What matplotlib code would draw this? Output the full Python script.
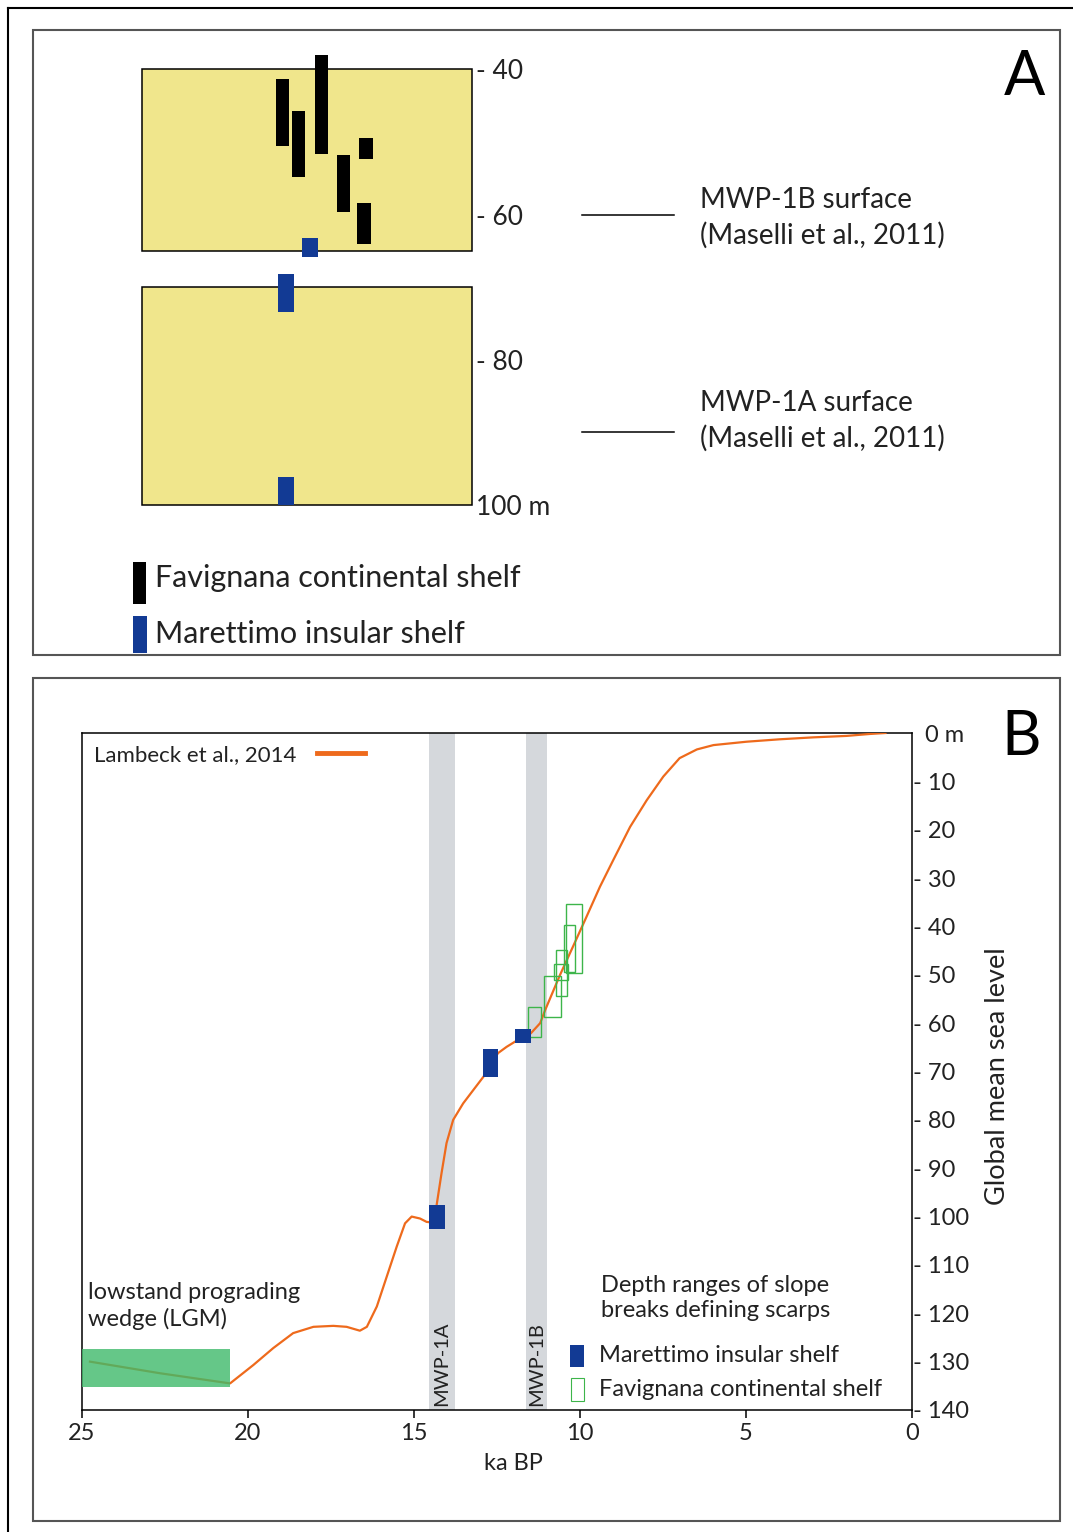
import matplotlib
matplotlib.use('Agg')
import matplotlib.pyplot as plt
from matplotlib.patches import Rectangle
from matplotlib.lines import Line2D
from matplotlib.transforms import blended_transform_factory

plt.rcParams['font.family'] = ['Lato', 'DejaVu Sans']

# ---------------- data: panel A ----------------
fav_x_A = [42.5, 47.5, 54.3, 61.0, 67.9, 67.3]
fav_top_A = [41.3, 45.7, 38.0, 51.8, 49.5, 58.4]
fav_bot_A = [50.6, 54.9, 51.7, 59.6, 52.3, 64.0]
mar_x_A = [50.9, 43.6, 43.6]
mar_top_A = [63.3, 68.2, 96.2]
mar_bot_A = [65.8, 73.4, 100.0]
shelf_top_A = [40, 70]
shelf_bot_A = [65, 100]
depth_ticks_A = [40, 60, 80, 100]
depth_labels_A = ['- 40', '- 60', '- 80', '100 m']
mwp_surface_depths = [60, 90]
mwp_surface_labels = ['MWP-1B surface\n(Maselli et al., 2011)',
                      'MWP-1A surface\n(Maselli et al., 2011)']

# ---------------- data: panel B ----------------
lambeck_age = [24.76, 22.65, 20.54, 19.84, 19.24, 18.64, 18.03, 17.43, 17.03,
               16.63, 16.42, 16.12, 15.82, 15.52, 15.27, 15.07, 14.82, 14.62,
               14.47, 14.32, 14.17, 14.02, 13.82, 13.52, 13.21, 12.91, 12.47,
               12.21, 11.95, 11.48, 11.20, 11.05, 10.60, 10.20, 9.85, 9.40,
               9.00, 8.49, 7.99, 7.49, 7.00, 6.48, 5.98, 4.98, 3.98, 2.97,
               1.97, 1.27, 0.80]
lambeck_depth = [130.0, 132.4, 134.5, 130.7, 127.2, 124.1, 122.8, 122.6, 122.8,
                 123.6, 122.8, 118.6, 112.4, 106.2, 101.4, 100.0, 100.4, 101.1,
                 101.2, 97.7, 91.0, 84.8, 80.0, 76.6, 73.8, 71.1, 66.2,
                 64.9, 63.8, 62.1, 60.0, 57.3, 50.0, 44.0, 38.7, 31.8,
                 26.3, 19.4, 13.9, 9.0, 5.2, 3.4, 2.5, 1.8, 1.3, 0.9,
                 0.6, 0.2, 0.0]

mar_age_old_B = [11.95, 12.93, 14.54]
mar_age_young_B = [11.48, 12.47, 14.07]
mar_top_B = [61.3, 65.3, 97.7]
mar_bot_B = [64.2, 71.1, 102.5]

fav_age_old_B = [10.43, 10.47, 10.73, 10.77, 11.08, 11.56]
fav_age_young_B = [9.95, 10.15, 10.39, 10.37, 10.58, 11.18]
fav_top_B = [35.3, 39.7, 44.9, 47.8, 50.2, 56.7]
fav_bot_B = [49.7, 49.4, 54.4, 51.1, 58.7, 62.8]

mwp_names = ['MWP-1A', 'MWP-1B']
mwp_age_old = [14.54, 11.63]
mwp_age_young = [13.77, 10.98]

lgm_age = [25.0, 20.54]
lgm_depth = [127.4, 135.2]

x_ticks_B = [25, 20, 15, 10, 5, 0]
y_ticks_B = list(range(0, 141, 10))
y_labels_B = ['  0 m'] + ['- %d' % v for v in y_ticks_B[1:]]

# ---------------- styling ----------------
YELLOW = '#f0e68c'
BLUE = '#123a94'
ORANGE = '#ee6a1c'
GREEN_EDGE = '#3db54a'
GREY_BAND = '#d5d8dc'
TXT = '#222222'

W, H = 1073, 1532
fig = plt.figure(figsize=(W / 100, H / 100), dpi=100)


def fx(px):
    return px / W


def fy(py):
    return 1 - py / H


# outer frame lines
fig.add_artist(Line2D([fx(8), fx(1073)], [fy(8), fy(8)], color='black', lw=1.5))
fig.add_artist(Line2D([fx(8), fx(8)], [fy(8), fy(1532)], color='black', lw=1.5))
# panel frames
for (x0, y0, x1, y1) in [(33, 30, 1060, 655), (33, 678, 1060, 1521)]:
    fig.add_artist(Rectangle((fx(x0), fy(y1)), fx(x1) - fx(x0), fy(y0) - fy(y1),
                             transform=fig.transFigure, fill=False,
                             edgecolor='#555555', lw=1.5))

# ================= Panel A =================
axA = fig.add_axes([fx(142), fy(505), 330 / W, (505 - 69.3) / H])
axA.set_xlim(0, 100)
axA.set_ylim(100, 40)
for s in axA.spines.values():
    s.set_visible(False)
axA.set_xticks([])
axA.yaxis.tick_right()
axA.set_yticks(depth_ticks_A)
axA.set_yticklabels(depth_labels_A, fontsize=19, color=TXT)
axA.tick_params(axis='y', length=0, pad=3)
axA.patch.set_alpha(0)

for t, b in zip(shelf_top_A, shelf_bot_A):
    axA.add_patch(Rectangle((0, t), 100, b - t, facecolor=YELLOW,
                            edgecolor='black', lw=1.1, clip_on=False, zorder=1))
for x, t, b in zip(fav_x_A, fav_top_A, fav_bot_A):
    axA.add_patch(Rectangle((x - 2.0, t), 4.0, b - t, facecolor='black',
                            edgecolor='none', clip_on=False, zorder=3))
for x, t, b in zip(mar_x_A, mar_top_A, mar_bot_A):
    axA.add_patch(Rectangle((x - 2.35, t), 4.7, b - t, facecolor=BLUE,
                            edgecolor='none', clip_on=False, zorder=3))

trA = blended_transform_factory(fig.transFigure, axA.transData)
label_y_px = [218, 421]
for d, lab, ly in zip(mwp_surface_depths, mwp_surface_labels, label_y_px):
    axA.plot([fx(582), fx(674)], [d, d], color='black', lw=1.1,
             transform=trA, clip_on=False)
    fig.text(fx(700), fy(ly), lab, fontsize=20, va='center', ha='left',
             linespacing=1.4, color=TXT)

fig.text(fx(1004), fy(95), 'A', fontsize=44, va='baseline', ha='left')

# legend A
fig.add_artist(Rectangle((fx(133), fy(604)), 13 / W, 42 / H,
                         transform=fig.transFigure, facecolor='black'))
fig.add_artist(Rectangle((fx(133), fy(653)), 14 / W, 37 / H,
                         transform=fig.transFigure, facecolor=BLUE))
fig.text(fx(155), fy(578), 'Favignana continental shelf', fontsize=22,
         va='center', ha='left', color=TXT)
fig.text(fx(155), fy(634), 'Marettimo insular shelf', fontsize=22,
         va='center', ha='left', color=TXT)

# ================= Panel B =================
axB = fig.add_axes([fx(82), fy(1410), 830 / W, 677 / H])
axB.set_xlim(25, 0)
axB.set_ylim(140, 0)
for s in axB.spines.values():
    s.set_linewidth(1.1)
axB.set_xticks(x_ticks_B)
axB.set_xticklabels([str(v) for v in x_ticks_B], fontsize=17, color=TXT)
axB.tick_params(axis='x', direction='out', length=6, width=1.1, pad=3)
axB.yaxis.tick_right()
axB.set_yticks(y_ticks_B)
axB.set_yticklabels(y_labels_B, fontsize=17, color=TXT)
axB.tick_params(axis='y', length=0, pad=1)

for o, yng, name in zip(mwp_age_old, mwp_age_young, mwp_names):
    axB.axvspan(yng, o, color=GREY_BAND, zorder=0, lw=0)
    axB.text((o + yng) / 2, 139.2, name, rotation=90, ha='center', va='bottom',
             fontsize=14.5, color=TXT, zorder=2)

axB.plot(lambeck_age, lambeck_depth, color=ORANGE, lw=1.6, zorder=3,
         label='Lambeck et al., 2014')

axB.add_patch(Rectangle((lgm_age[1], lgm_depth[0]), lgm_age[0] - lgm_age[1],
                        lgm_depth[1] - lgm_depth[0], facecolor='#3fba6a',
                        alpha=0.8, edgecolor='none', zorder=4))

for o, yng, t, b in zip(fav_age_old_B, fav_age_young_B, fav_top_B, fav_bot_B):
    axB.add_patch(Rectangle((yng, t), o - yng, b - t, fill=False,
                            edgecolor=GREEN_EDGE, lw=1.0, zorder=4))
for o, yng, t, b in zip(mar_age_old_B, mar_age_young_B, mar_top_B, mar_bot_B):
    axB.add_patch(Rectangle((yng, t), o - yng, b - t, facecolor=BLUE,
                            edgecolor='none', zorder=5))

leg = axB.legend(loc='upper left', frameon=False, markerfirst=False,
                 fontsize=16, handlelength=2.2, handletextpad=0.9,
                 borderaxespad=0.35, borderpad=0.2)
for txt in leg.get_texts():
    txt.set_color(TXT)
for ln in leg.get_lines():
    ln.set_linewidth(3.5)

fig.text(fx(513), fy(1463), 'ka BP', fontsize=17, ha='center', va='center',
         color=TXT)
fig.text(fx(997), fy(1076), 'Global mean sea level', fontsize=19.5,
         rotation=90, ha='center', va='center', color=TXT)
fig.text(fx(1001), fy(755), 'B', fontsize=44, va='baseline', ha='left')

fig.text(fx(88), fy(1306), 'lowstand prograding\nwedge (LGM)', fontsize=17,
         ha='left', va='center', linespacing=1.25, color=TXT)

fig.text(fx(601), fy(1298), 'Depth ranges of slope\nbreaks defining scarps',
         fontsize=17, ha='left', va='center', linespacing=1.25, color=TXT)
fig.add_artist(Rectangle((fx(570), fy(1367)), 14 / W, 22 / H,
                         transform=fig.transFigure, facecolor=BLUE))
fig.add_artist(Rectangle((fx(571), fy(1401)), 13 / W, 23 / H,
                         transform=fig.transFigure, fill=False,
                         edgecolor=GREEN_EDGE, lw=0.8))
fig.text(fx(599), fy(1356), 'Marettimo insular shelf', fontsize=17,
         ha='left', va='center', color=TXT)
fig.text(fx(599), fy(1389), 'Favignana continental shelf', fontsize=17,
         ha='left', va='center', color=TXT)

fig.savefig('out.png', dpi=100)
